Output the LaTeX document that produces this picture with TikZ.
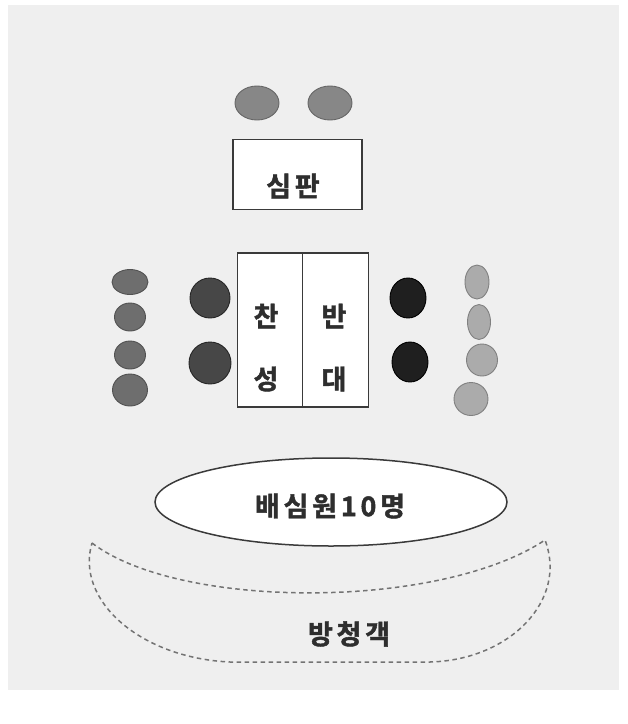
\documentclass[tikz,border=0pt]{standalone}
\usepackage{fontspec}
\newfontfamily\kr{Noto Sans CJK KR}[BoldFont={Noto Sans CJK KR Bold}, BoldFeatures={FakeBold=1.6}]
\newfontfamily\krsp{Noto Sans CJK KR}[BoldFont={Noto Sans CJK KR Bold}, BoldFeatures={FakeBold=1.6}, LetterSpace=14]
\usetikzlibrary{shapes.geometric}
\definecolor{bg}{HTML}{EFEFEF}
\definecolor{linec}{HTML}{3A3A3A}
\tikzset{
  seat/.style={ellipse, inner sep=0pt, line width=0.9pt},
  topseat/.style={seat, fill=black!47, draw=black!60},
  leftseat/.style={seat, fill=black!57, draw=black!68},
  darkseat/.style={seat, fill=black!72, draw=black!85},
  blackseat/.style={seat, fill=black!88, draw=black},
  lightseat/.style={seat, fill=black!33, draw=black!50},
  tablebox/.style={draw=linec, fill=white, line width=1.5pt},
  lbl/.style={font=\kr\bfseries\fontsize{27}{30}\selectfont, text=black!82},
  lblsp/.style={font=\krsp\bfseries\fontsize{27}{30}\selectfont, text=black!82},
  audience/.style={draw=black!55, line width=1.5pt, dash pattern=on 4.5pt off 3.5pt}
}
\begin{document}
\begin{tikzpicture}[x=1pt,y=-1pt]
\useasboundingbox (0,0) rectangle (628,724);
\fill[white] (0,0) rectangle (628,724);
\fill[bg] (8,5) rectangle (619,690);
% top judges
\node[topseat, minimum width=44pt, minimum height=34pt] (t1) at (257,103) {};
\node[topseat, minimum width=44pt, minimum height=34pt] (t2) at (330,103) {};
% judge table
\node[tablebox, minimum width=129pt, minimum height=70pt] (judge) at (297.5,174.5) {};
\node[lblsp] (judgetxt) at (293,186) {심판};
% debate table
\node[tablebox, minimum width=65pt, minimum height=154pt] (pro) at (270,330) {};
\node[tablebox, minimum width=66pt, minimum height=154pt] (con) at (335.5,330) {};
\node[lbl] (p1) at (266,316) {찬};
\node[lbl] (p2) at (266,379) {성};
\node[lbl] (c1) at (334,316) {반};
\node[lbl] (c2) at (334,379) {대};
% left column
\node[leftseat, minimum width=36pt, minimum height=25pt] (l1) at (130,282) {};
\node[leftseat, minimum width=31pt, minimum height=28pt] (l2) at (130,317) {};
\node[leftseat, minimum width=31pt, minimum height=28pt] (l3) at (130,355) {};
\node[leftseat, minimum width=35pt, minimum height=32pt] (l4) at (130,390) {};
% left dark
\node[darkseat, minimum width=40pt, minimum height=40pt] (d1) at (210,298) {};
\node[darkseat, minimum width=42pt, minimum height=42pt] (d2) at (210,363) {};
% right black
\node[blackseat, minimum width=36pt, minimum height=40pt] (b1) at (408,298) {};
\node[blackseat, minimum width=36pt, minimum height=40pt] (b2) at (410,362) {};
% right column
\node[lightseat, minimum width=24pt, minimum height=34pt] (r1) at (477,282) {};
\node[lightseat, minimum width=23pt, minimum height=35pt] (r2) at (479,322) {};
\node[lightseat, minimum width=31pt, minimum height=32pt] (r3) at (482,360) {};
\node[lightseat, minimum width=34pt, minimum height=33pt] (r4) at (471,399) {};
% jury
\node[ellipse, draw=linec, fill=white, line width=1.5pt, minimum width=352pt, minimum height=88pt] (jury) at (331,502) {};
\node[lblsp] (jurytxt) at (330,506) {배심원10명};
% audience
\draw[audience] (92,543) .. controls (180,610) and (440,610) .. (545,540)
  .. controls (568,600) and (510,660) .. (430,662) -- (230,662)
  .. controls (140,658) and (75,600) .. cycle;
\node[lblsp] (audtxt) at (349,634) {방청객};
\end{tikzpicture}
\end{document}
